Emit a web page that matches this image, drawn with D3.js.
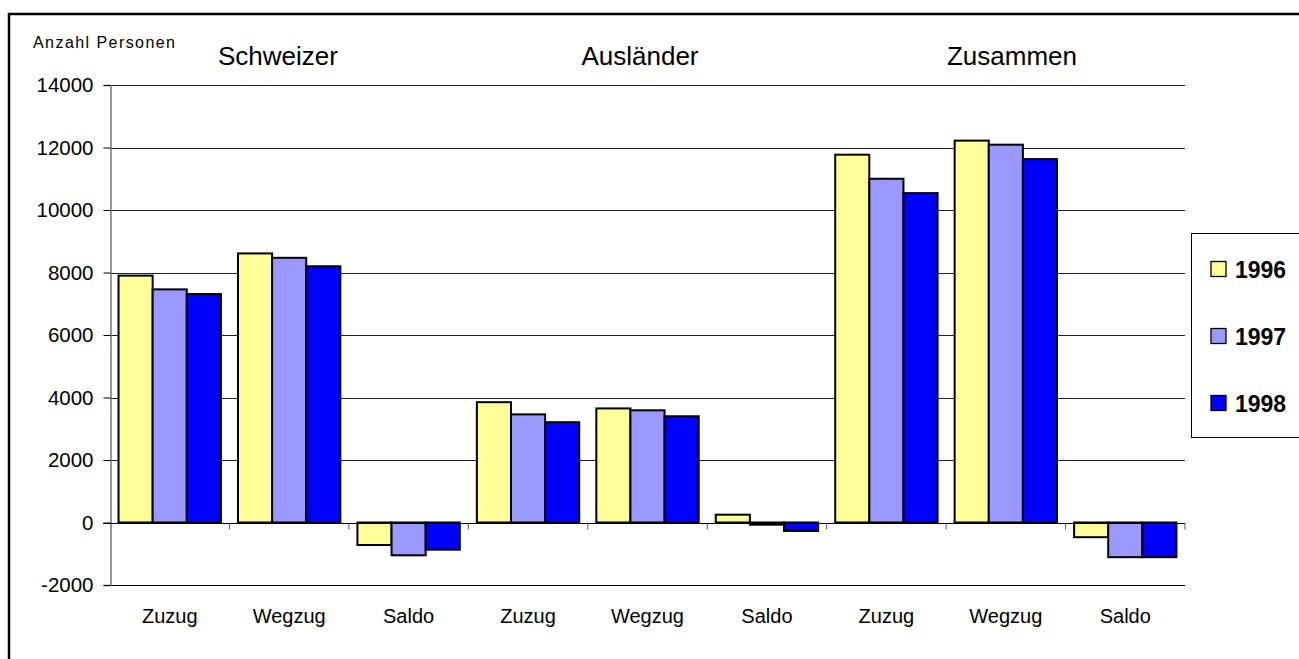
<!DOCTYPE html>
<html>
<head>
  <script src="https://d3js.org/d3.v7.min.js"></script>
  <style>
    body { margin: 0; background: #fff; font-family: "Liberation Sans", Arial, sans-serif; }
    svg { display: block; }
    .grid line { stroke: #222; stroke-width: 1; }
  </style>
</head>
<body>
  <svg width="1299" height="659"></svg>
  <script>
    const width = 1299, height = 659;

    const groups = ["Schweizer", "Ausländer", "Zusammen"];
    const kinds = ["Zuzug", "Wegzug", "Saldo"];
    const years = ["1996", "1997", "1998"];
    const colors = ["#FFFF99", "#9999FF", "#0000FF"];
    const yTicks = [-2000, 0, 2000, 4000, 6000, 8000, 10000, 12000, 14000];

    // one row per year, 9 values: Schweizer Z/W/S, Ausländer Z/W/S, Zusammen Z/W/S
    const v1996 = [7900, 8610, -720, 3850, 3650, 250, 11770, 12220, -470];
    const v1997 = [7460, 8470, -1050, 3460, 3590, -70, 11000, 12090, -1110];
    const v1998 = [7310, 8200, -870, 3210, 3400, -270, 10540, 11630, -1110];
    const series = [v1996, v1997, v1998];

    const categories = [];
    groups.forEach(g => kinds.forEach(k => categories.push(g + "|" + k)));

    const plotL = 110, plotR = 1185, plotT = 85, plotB = 585;

    const svg = d3.select("svg");

    // outer frame
    svg.append("rect")
      .attr("x", 9).attr("y", 14)
      .attr("width", 1300).attr("height", 660)
      .attr("fill", "none").attr("stroke", "#000").attr("stroke-width", 2.5);

    const x = d3.scaleBand().domain(categories).range([plotL, plotR]).paddingInner(0.143).paddingOuter(0.0715);
    const x0 = d3.scaleBand().domain(categories).range([plotL, plotR]);
    const xs = d3.scaleBand().domain(years).range([0, x.bandwidth()]);
    const y = d3.scaleLinear().domain([-2000, 14000]).range([plotB, plotT]);

    // gridlines
    svg.append("g").attr("class", "grid")
      .selectAll("line").data(yTicks.filter(d => d !== 0 && d !== -2000))
      .enter().append("line")
      .attr("x1", plotL).attr("x2", plotR)
      .attr("y1", d => Math.round(y(d)) + 0.5).attr("y2", d => Math.round(y(d)) + 0.5);

    // bottom line
    svg.append("line")
      .attr("x1", plotL).attr("x2", plotR)
      .attr("y1", Math.round(y(-2000)) + 0.5).attr("y2", Math.round(y(-2000)) + 0.5)
      .attr("stroke", "#000");

    // y axis
    const yAxis = svg.append("g")
      .attr("transform", `translate(${plotL + 0.5},0)`)
      .call(d3.axisLeft(y).tickValues(yTicks).tickSize(7).tickPadding(10).tickFormat(d => String(d)));
    yAxis.select(".domain").attr("stroke", "#777").attr("stroke-width", 1.5);
    yAxis.selectAll(".tick line").attr("stroke", "#000");
    yAxis.selectAll("text").attr("font-size", 20.5).attr("fill", "#000")
      .attr("font-family", "Liberation Sans, Arial, sans-serif");

    // bars
    series.forEach((vals, si) => {
      svg.append("g").selectAll("rect").data(vals)
        .enter().append("rect")
        .attr("x", (d, i) => x(categories[i]) + xs(years[si]))
        .attr("y", d => y(Math.max(0, d)))
        .attr("width", xs.bandwidth())
        .attr("height", d => Math.abs(y(d) - y(0)))
        .attr("fill", colors[si])
        .attr("stroke", "#000")
        .attr("stroke-width", 2);
    });

    // zero line with ticks at category boundaries
    const zy = Math.round(y(0)) + 0.5;
    svg.append("line")
      .attr("x1", plotL - 7).attr("x2", plotR)
      .attr("y1", zy).attr("y2", zy)
      .attr("stroke", "#000");
    svg.append("g").selectAll("line").data(categories)
      .enter().append("line")
      .attr("x1", d => x0(d) + x0.bandwidth()).attr("x2", d => x0(d) + x0.bandwidth())
      .attr("y1", zy).attr("y2", zy + 6)
      .attr("stroke", "#555");

    // category labels
    svg.append("g").selectAll("text").data(categories)
      .enter().append("text")
      .attr("x", d => x0(d) + x0.bandwidth() / 2)
      .attr("y", 623)
      .attr("text-anchor", "middle")
      .attr("font-size", 20)
      .text(d => d.split("|")[1]);

    // group titles
    const titleX = [278, 640, 1012];
    svg.append("g").selectAll("text").data(groups)
      .enter().append("text")
      .attr("x", (d, i) => titleX[i])
      .attr("y", 65)
      .attr("text-anchor", "middle")
      .attr("font-size", 26)
      .text(d => d);

    svg.append("text")
      .attr("x", 33).attr("y", 48)
      .attr("font-size", 16)
      .attr("textLength", 142).attr("lengthAdjust", "spacing")
      .text("Anzahl Personen");

    // legend
    const lg = svg.append("g");
    lg.append("rect")
      .attr("x", 1191.5).attr("y", 233.5)
      .attr("width", 120).attr("height", 204)
      .attr("fill", "#fff").attr("stroke", "#000");
    const ly = [269, 336, 403];
    years.forEach((yr, i) => {
      lg.append("rect")
        .attr("x", 1211).attr("y", ly[i] - 7.5)
        .attr("width", 15).attr("height", 15)
        .attr("fill", colors[i]).attr("stroke", "#000").attr("stroke-width", 1.3);
      lg.append("text")
        .attr("x", 1235).attr("y", ly[i] + 8.5)
        .attr("font-size", 23).attr("font-weight", "bold")
        .text(yr);
    });
  </script>
</body>
</html>
